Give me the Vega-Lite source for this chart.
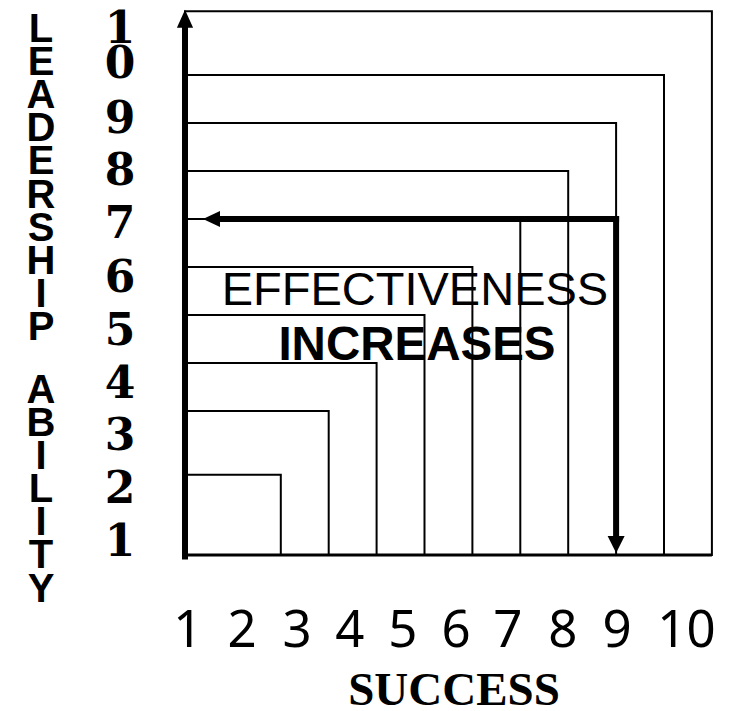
{
  "$schema": "https://vega.github.io/schema/vega-lite/v6.json",
  "width": 729,
  "height": 711,
  "autosize": "none",
  "padding": 0,
  "background": "white",
  "config": {"view": {"stroke": null}},
  "datasets": {
    "boxes": [
      {"level": 1, "x": 2, "y": 1.67},
      {"level": 2, "x": 3, "y": 3},
      {"level": 3, "x": 4, "y": 4},
      {"level": 4, "x": 5, "y": 5},
      {"level": 5, "x": 6, "y": 6},
      {"level": 6, "x": 7, "y": 7},
      {"level": 7, "x": 8, "y": 8},
      {"level": 8, "x": 9, "y": 9},
      {"level": 9, "x": 10, "y": 10},
      {"level": 10, "x": 11, "y": 11.33}
    ],
    "thick": [
      {"part": "y axis", "x": 0, "y": -0.03, "x2": 0, "y2": 11.0},
      {"part": "left arrow", "x": 9, "y": 7, "x2": 0.73, "y2": 7},
      {"part": "down arrow", "x": 9, "y": 7, "x2": 9, "y2": 0.375}
    ],
    "base": [
      {"part": "x axis", "x": 0, "y": 0, "x2": 11, "y2": 0}
    ],
    "headUp": [{"x": 0, "y": 11.17}],
    "headLeft": [{"x": 0.553, "y": 7}],
    "headDown": [{"x": 9, "y": 0.219}],
    "yLabels": [
      {"label": "1", "x": -1.357, "y": -0.02},
      {"label": "2", "x": -1.357, "y": 1.083},
      {"label": "3", "x": -1.357, "y": 2.19},
      {"label": "4", "x": -1.357, "y": 3.27},
      {"label": "5", "x": -1.357, "y": 4.375},
      {"label": "6", "x": -1.357, "y": 5.48},
      {"label": "7", "x": -1.357, "y": 6.6},
      {"label": "8", "x": -1.357, "y": 7.71},
      {"label": "9", "x": -1.357, "y": 8.79},
      {"label": "1\n0", "x": -1.357, "y": 10.67}
    ],
    "xLabels": [
      {"label": "1", "x": 0.06, "y": -1.917},
      {"label": "2", "x": 1.19, "y": -1.917},
      {"label": "3", "x": 2.34, "y": -1.917},
      {"label": "4", "x": 3.44, "y": -1.917},
      {"label": "5", "x": 4.55, "y": -1.917},
      {"label": "6", "x": 5.66, "y": -1.917},
      {"label": "7", "x": 6.74, "y": -1.917},
      {"label": "8", "x": 7.89, "y": -1.917},
      {"label": "9", "x": 9.02, "y": -1.917},
      {"label": "10", "x": 10.47, "y": -1.917}
    ],
    "yTitle": [
      {"label": "L\nE\nA\nD\nE\nR\nS\nH\nI\nP", "x": -3.006, "y": 10.6875},
      {"label": "A\nB\nI\nL\nI\nT\nY", "x": -3.006, "y": 3.1667}
    ],
    "xTitle": [{"label": "SUCCESS", "x": 5.616, "y": -3.12}],
    "note1": [{"label": "EFFECTIVENESS", "x": 4.8, "y": 5.208}],
    "note2": [{"label": "INCREASES", "x": 4.843, "y": 4.0625}]
  },
  "encoding": {
    "x": {"field": "x", "type": "quantitative", "axis": null, "scale": {"domain": [-3.8622, 11.357], "nice": false, "zero": false}},
    "y": {"field": "y", "type": "quantitative", "axis": null, "scale": {"domain": [-3.25, 11.5625], "nice": false, "zero": false}}
  },
  "layer": [
    {
      "data": {"name": "boxes"},
      "mark": {"type": "rect", "fill": null, "filled": false, "stroke": "black", "strokeWidth": 2},
      "encoding": {"x2": {"datum": 0}, "y2": {"datum": 0}}
    },
    {
      "data": {"name": "note1"},
      "mark": {"type": "text", "font": "Liberation Sans", "fontSize": 47, "align": "center", "baseline": "alphabetic", "color": "black"},
      "encoding": {"text": {"field": "label"}}
    },
    {
      "data": {"name": "note2"},
      "mark": {"type": "text", "font": "Liberation Sans", "fontWeight": "bold", "fontSize": 47.5, "align": "center", "baseline": "alphabetic", "color": "black"},
      "encoding": {"text": {"field": "label"}}
    },
    {
      "data": {"name": "base"},
      "mark": {"type": "rule", "color": "black", "strokeWidth": 3},
      "encoding": {"x2": {"field": "x2"}, "y2": {"field": "y2"}}
    },
    {
      "data": {"name": "thick"},
      "mark": {"type": "rule", "color": "black", "strokeWidth": 6, "strokeCap": "square"},
      "encoding": {"x2": {"field": "x2"}, "y2": {"field": "y2"}}
    },
    {
      "data": {"name": "headUp"},
      "mark": {"type": "point", "shape": "M0,-1L0.9,1L-0.9,1Z", "size": 324, "filled": true, "color": "black", "opacity": 1, "strokeWidth": 0},
      "encoding": {}
    },
    {
      "data": {"name": "headLeft"},
      "mark": {"type": "point", "shape": "M-1,0L1,-0.95L1,0.95Z", "size": 289, "filled": true, "color": "black", "opacity": 1, "strokeWidth": 0},
      "encoding": {}
    },
    {
      "data": {"name": "headDown"},
      "mark": {"type": "point", "shape": "M-1,-1L1,-1L0,1Z", "size": 289, "filled": true, "color": "black", "opacity": 1, "strokeWidth": 0},
      "encoding": {}
    },
    {
      "data": {"name": "yLabels"},
      "mark": {"type": "text", "font": "DejaVu Serif", "fontWeight": "bold", "fontSize": 44, "align": "center", "baseline": "alphabetic", "lineBreak": "\n", "lineHeight": 35, "color": "black"},
      "encoding": {"text": {"field": "label"}}
    },
    {
      "data": {"name": "xLabels"},
      "mark": {"type": "text", "font": "Noto Sans", "fontSize": 51, "align": "center", "baseline": "alphabetic", "color": "black"},
      "encoding": {"text": {"field": "label"}}
    },
    {
      "data": {"name": "yTitle"},
      "mark": {"type": "text", "font": "Liberation Sans", "fontWeight": "bold", "fontSize": 40, "align": "center", "baseline": "alphabetic", "lineBreak": "\n", "lineHeight": 33.1, "color": "black"},
      "encoding": {"text": {"field": "label"}}
    },
    {
      "data": {"name": "xTitle"},
      "mark": {"type": "text", "font": "Liberation Serif", "fontWeight": "bold", "fontSize": 47, "align": "center", "baseline": "alphabetic", "color": "black"},
      "encoding": {"text": {"field": "label"}}
    }
  ]
}
